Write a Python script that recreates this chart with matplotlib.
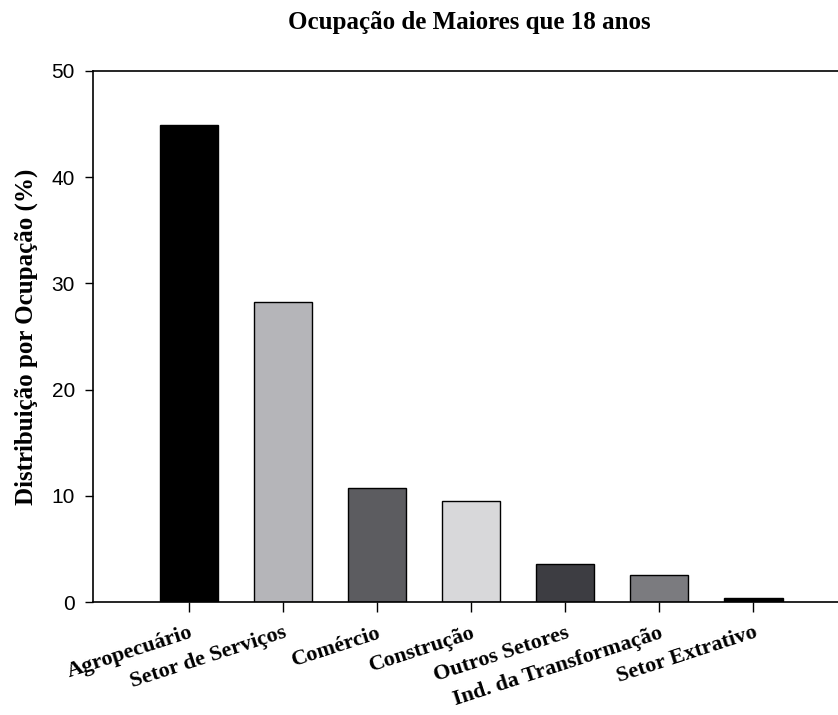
"""Ocupação de maiores de 18 anos - bar chart."""

import matplotlib
matplotlib.use("Agg")
import matplotlib.pyplot as plt

categorias = ["Agropecuário", "Setor de Serviços", "Comércio", "Construção",
              "Outros Setores", "Ind. da Transformação", "Setor Extrativo"]
valores = [44.9, 28.2, 10.7, 9.5, 3.6, 2.5, 0.4]
cores = ["#000000", "#b5b5b9", "#5c5c60", "#d8d8da", "#3d3d42", "#7b7b7f", "#000000"]
yticks = [0, 10, 20, 30, 40, 50]

SERIF = ["Liberation Serif", "DejaVu Serif"]
SANS = ["Liberation Sans", "DejaVu Sans"]

fig = plt.figure(figsize=(8.38, 7.15), dpi=100)
ax = fig.add_axes([0.111, 0.158, 0.889, 0.743])

x = range(len(categorias))
ax.bar(x, valores, width=0.62, color=cores, edgecolor="black", linewidth=1.0)

ax.set_xlim(-1.02, 6.9)
ax.set_ylim(0, 50)
ax.set_yticks(yticks)
ax.set_yticklabels([str(v) for v in yticks], family=SANS, fontsize=15)
ax.set_xticks(list(x))
ax.set_xticklabels(categorias, family=SERIF, fontweight="bold", fontsize=16,
                   rotation=18, ha="right", rotation_mode="anchor")
ax.tick_params(axis="y", direction="out", length=6, width=1, pad=7)
ax.tick_params(axis="x", direction="out", length=7, width=1, pad=8)

for s in ("left", "bottom", "top"):
    ax.spines[s].set_linewidth(1.2)
ax.spines["right"].set_visible(False)

ax.set_ylabel("Distribuição por Ocupação (%)", family=SERIF, fontweight="bold",
              fontsize=18, labelpad=10)
fig.text(0.56, 0.968, "Ocupação de Maiores que 18 anos", family=SERIF,
         fontweight="bold", fontsize=18, ha="center", va="center")

fig.savefig("out.png", dpi=100)
